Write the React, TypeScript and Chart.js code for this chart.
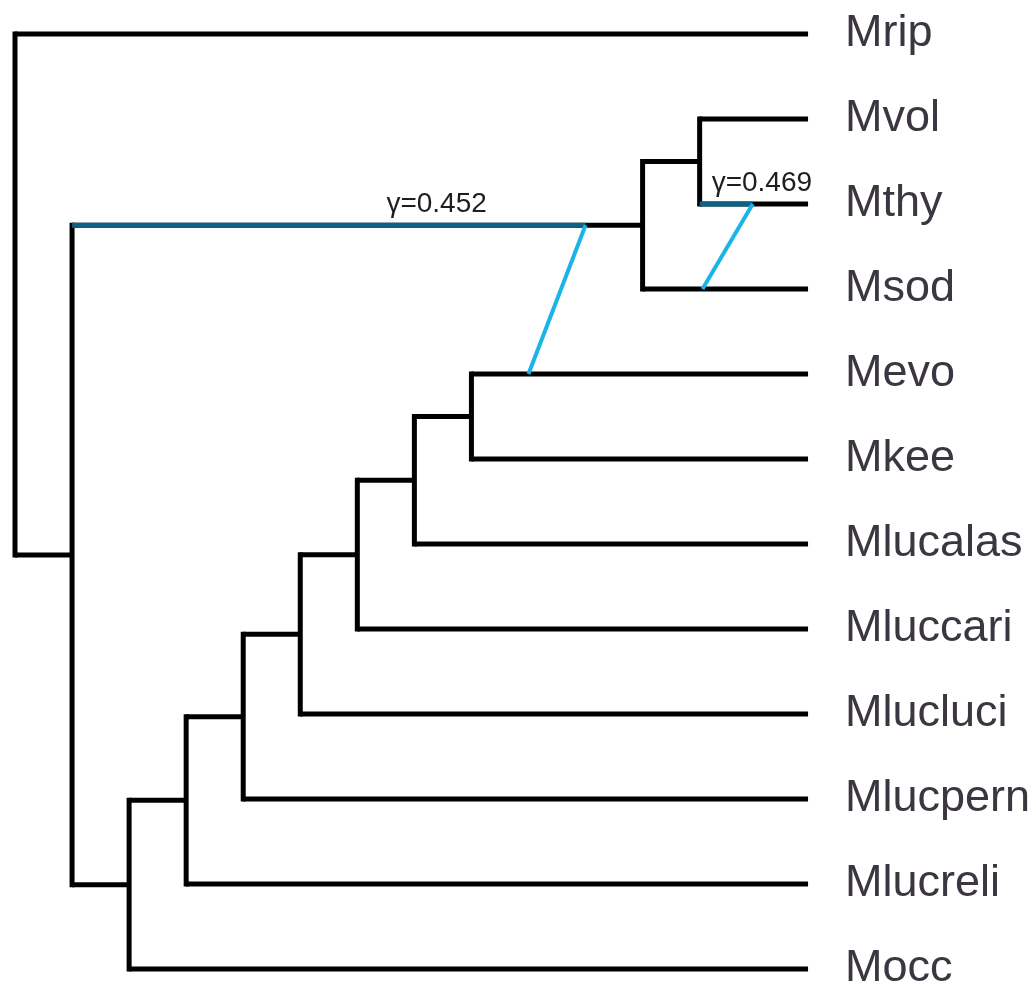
import React, { useEffect, useRef } from "react";
import { Chart, registerables } from "chart.js";

Chart.register(...registerables);

// ---- data ----
const taxa = ["Mrip", "Mvol", "Mthy", "Msod", "Mevo", "Mkee", "Mlucalas", "Mluccari", "Mlucluci", "Mlucpern", "Mlucreli", "Mocc"];
const tipDepth = 13.9;
const nodeIds = ["root", "A", "B", "C", "D", "E", "F", "G", "H", "I", "J"];
const nodeDepths = [0, 1, 11, 12, 2, 3, 4, 5, 6, 7, 8];
const nodeChildren = [
  ["Mrip", "A"],
  ["B", "D"],
  ["C", "Msod"],
  ["Mvol", "Mthy"],
  ["E", "Mocc"],
  ["F", "Mlucreli"],
  ["G", "Mlucpern"],
  ["H", "Mlucluci"],
  ["I", "Mluccari"],
  ["J", "Mlucalas"],
  ["Mevo", "Mkee"],
];
// hybridization edges
const hybridGammas = [0.452, 0.469];
const hybridTargets = ["B", "Mthy"]; // edge where the minor (light) edge starts
const hybridStartDepths = [10.0, 12.93];
const hybridSources = ["Mevo", "Msod"]; // edge where the minor edge ends
const hybridEndDepths = [9.0, 12.05];
const gammaLabelDepths = [7.39, 13.09];

// ---- derived layout of tree ----
function buildTree() {
  const depth: Record<string, number> = {};
  const yPos: Record<string, number> = {};
  const parent: Record<string, string> = {};
  taxa.forEach((t, i) => {
    depth[t] = tipDepth;
    yPos[t] = i;
  });
  nodeIds.forEach((n, i) => {
    depth[n] = nodeDepths[i];
    nodeChildren[i].forEach((c) => (parent[c] = n));
  });
  const getY = (n: string): number => {
    if (yPos[n] !== undefined) return yPos[n];
    const idx = nodeIds.indexOf(n);
    const ys = nodeChildren[idx].map(getY);
    yPos[n] = ys.reduce((a, b) => a + b, 0) / ys.length;
    return yPos[n];
  };
  nodeIds.forEach(getY);
  return { depth, yPos, parent };
}

const BLACK = "#000000";
const DARK_BLUE = "#0d6284";
const LIGHT_BLUE = "#1ab4e8";

export default function App() {
  const ref = useRef<HTMLCanvasElement>(null);
  useEffect(() => {
    if (!ref.current) return;
    const { depth, yPos, parent } = buildTree();
    const datasets: any[] = [];
    nodeIds.forEach((n, i) => {
      const cys = nodeChildren[i].map((c) => yPos[c]);
      // vertical span of the node
      datasets.push({
        data: [
          { x: depth[n], y: Math.min(...cys) },
          { x: depth[n], y: Math.max(...cys) },
        ],
        borderColor: BLACK,
        borderWidth: 5,
        borderCapStyle: "square",
        order: 3,
      });
      // horizontal edges to children
      nodeChildren[i].forEach((c) => {
        datasets.push({
          data: [
            { x: depth[n], y: yPos[c] },
            { x: depth[c], y: yPos[c] },
          ],
          borderColor: BLACK,
          borderWidth: 5,
          borderCapStyle: "butt",
          order: 3,
        });
      });
    });
    // hybrid major parent edges (dark blue) and minor edges (light blue)
    hybridTargets.forEach((t, i) => {
      const p = parent[t];
      datasets.push({
        data: [
          { x: depth[p], y: yPos[t] },
          { x: hybridStartDepths[i], y: yPos[t] },
        ],
        borderColor: DARK_BLUE,
        borderWidth: 5,
        borderCapStyle: "butt",
        order: 2,
      });
      datasets.push({
        data: [
          { x: hybridStartDepths[i], y: yPos[t] },
          { x: hybridEndDepths[i], y: yPos[hybridSources[i]] },
        ],
        borderColor: LIGHT_BLUE,
        borderWidth: 4,
        borderCapStyle: "butt",
        order: 1,
      });
    });

    const gammaPlugin = {
      id: "gammaLabels",
      afterDatasetsDraw(chart: any) {
        const ctx = chart.ctx;
        const xs = chart.scales.x;
        const ys = chart.scales.y;
        ctx.save();
        ctx.font = '28px "Liberation Sans", Arial, sans-serif';
        ctx.fillStyle = "#1e1e1e";
        ctx.textAlign = "center";
        ctx.textBaseline = "alphabetic";
        hybridGammas.forEach((g, i) => {
          const px = xs.getPixelForValue(gammaLabelDepths[i]);
          const py = ys.getPixelForValue(yPos[hybridTargets[i]]) - 13;
          ctx.fillText(`\u03b3=${g.toFixed(3)}`, px, py);
        });
        ctx.restore();
      },
    };

    const chart = new Chart(ref.current, {
      type: "scatter",
      data: { datasets },
      options: {
        animation: false,
        responsive: false,
        devicePixelRatio: 1,
        layout: { padding: 0 },
        datasets: { scatter: { showLine: true, pointRadius: 0, pointHoverRadius: 0, tension: 0 } } as any,
        plugins: { legend: { display: false }, tooltip: { enabled: false } },
        events: [],
        scales: {
          x: { type: "linear", display: false, min: -0.263, max: 14.46 },
          y: {
            type: "linear",
            position: "right",
            reverse: true,
            min: -0.4,
            max: 11.235,
            grid: { display: false, drawTicks: false },
            border: { display: false },
            ticks: {
              autoSkip: false,
              padding: 5,
              color: "#3b3640",
              font: { family: '"Liberation Sans", Arial, sans-serif', size: 45 },
              callback: (v: any) => taxa[Number(v)] ?? "",
            },
            afterBuildTicks: (s: any) => {
              s.ticks = taxa.map((_, i) => ({ value: i }));
            },
            afterFit: (s: any) => {
              s.width = 196;
              s.paddingTop = 0;
              s.paddingBottom = 0;
            },
          },
        },
      },
      plugins: [gammaPlugin],
    });
    return () => chart.destroy();
  }, []);
  return (
    <div style={{ position: "absolute", left: 0, top: 0, width: 1036, height: 989, background: "#fff" }}>
      <canvas ref={ref} width={1036} height={989} />
    </div>
  );
}
